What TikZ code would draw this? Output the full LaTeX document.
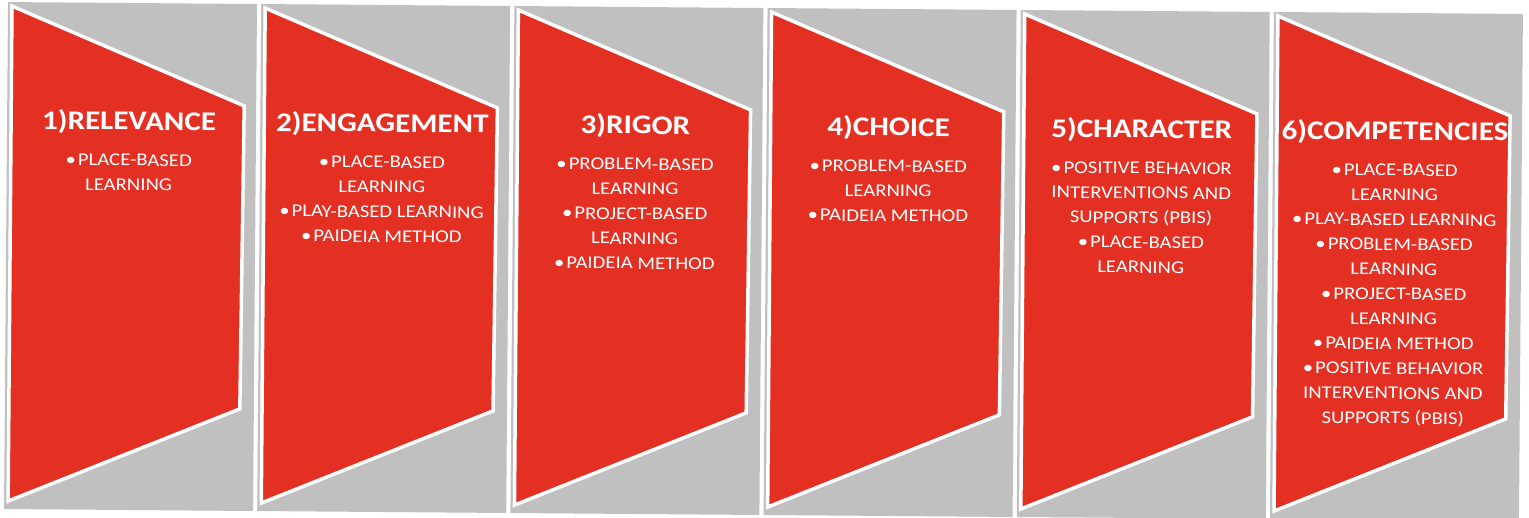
\documentclass[tikz,border=0pt]{standalone}
\usepackage{fontspec}
\setmainfont[FakeStretch=1.15]{Carlito}
\definecolor{panelgray}{RGB}{192,192,193}
\definecolor{panelred}{RGB}{228,47,35}
\newcommand{\bul}{•\hspace{2pt}}
\tikzset{
  graypanel/.style={fill=panelgray, draw=none},
  redpanel/.style={fill=panelred, draw=white, line width=3.5pt, line join=miter},
  titletext/.style={text=white, font=\fontsize{27}{31}\selectfont\bfseries, inner sep=0pt, transform shape},
  bodytext/.style={text=white, font=\fontsize{18}{24.8}\selectfont, align=center, inner sep=0pt, transform shape},
}
\begin{document}
\begin{tikzpicture}[x=1pt,y=-1pt]
\fill[white] (0,0) rectangle (1529,518);
\useasboundingbox (0,0) rectangle (1529,518);
\begin{scope}[rotate around={-0.45:(764,259)}]
\foreach \i/\t/\b in {
  1/{1)RELEVANCE}/{\bul PLACE-BASED\\LEARNING},
  2/{2)ENGAGEMENT}/{\bul PLACE-BASED\\LEARNING\\\bul PLAY-BASED LEARNING\\\bul PAIDEIA METHOD},
  3/{3)RIGOR}/{\bul PROBLEM-BASED\\LEARNING\\\bul PROJECT-BASED\\LEARNING\\\bul PAIDEIA METHOD},
  4/{4)CHOICE}/{\bul PROBLEM-BASED\\LEARNING\\\bul PAIDEIA METHOD},
  5/{5)CHARACTER}/{\bul POSITIVE BEHAVIOR\\INTERVENTIONS AND\\SUPPORTS (PBIS)\\\bul PLACE-BASED\\LEARNING},
  6/{6)COMPETENCIES}/{\bul PLACE-BASED\\LEARNING\\\bul PLAY-BASED LEARNING\\\bul PROBLEM-BASED\\LEARNING\\\bul PROJECT-BASED\\LEARNING\\\bul PAIDEIA METHOD\\\bul POSITIVE BEHAVIOR\\INTERVENTIONS AND\\SUPPORTS (PBIS)}}{
  \pgfmathsetmacro\gx{6+253.2*(\i-1)}
  \fill[graypanel] (\gx,8) rectangle (\gx+249,515);
  \draw[redpanel] (\gx+4,12) -- (\gx+237,110) -- (\gx+235,413) -- (\gx+4,507) -- cycle;
  \node[titletext] (t\i) at (\gx+122,127) {\t};
  \node[bodytext, anchor=north] (b\i) at (\gx+122,159) {\b};
}
\end{scope}
\end{tikzpicture}
\end{document}
